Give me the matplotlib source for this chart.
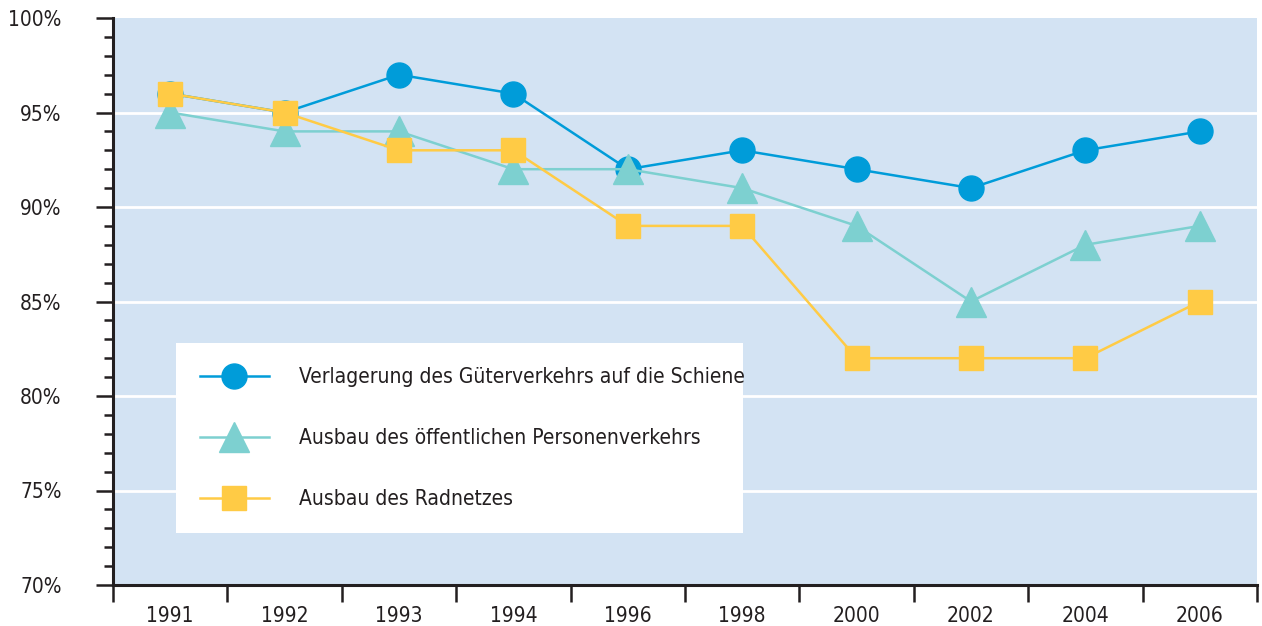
import matplotlib
matplotlib.use("Agg")
import matplotlib.pyplot as plt
from matplotlib.ticker import MultipleLocator, FixedLocator

plt.rcParams['font.family'] = ['DejaVu Sans']
plt.rcParams['font.stretch'] = 'condensed'

years = ["1991", "1992", "1993", "1994", "1996", "1998", "2000", "2002", "2004", "2006"]
gueter = [96, 95, 97, 96, 92, 93, 92, 91, 93, 94]
oepnv = [95, 94, 94, 92, 92, 91, 89, 85, 88, 89]
rad = [96, 95, 93, 93, 89, 89, 82, 82, 82, 85]

labels = [
    "Verlagerung des Güterverkehrs auf die Schiene",
    "Ausbau des öffentlichen Personenverkehrs",
    "Ausbau des Radnetzes",
]

BLUE = "#009cd9"
TEAL = "#7dd0d0"
YELLOW = "#ffcb45"
BG = "#d3e3f3"
TXT = "#231f20"

fig = plt.figure(figsize=(12.62, 6.26), dpi=100)
ax = fig.add_axes([113 / 1262, 1 - 585 / 626, 1144 / 1262, 567 / 626])
ax.set_facecolor(BG)

x = list(range(len(years)))
ax.plot(x, gueter, color=BLUE, lw=1.8, marker="o", ms=18, label=labels[0], zorder=3)
ax.plot(x, oepnv, color=TEAL, lw=1.8, marker="^", ms=21, label=labels[1], zorder=4)
ax.plot(x, rad, color=YELLOW, lw=1.8, marker="s", ms=17, label=labels[2], zorder=5)

ax.set_xlim(-0.5, len(years) - 0.5)
ax.set_ylim(70, 100)

# y axis
ax.yaxis.set_major_locator(FixedLocator([70, 75, 80, 85, 90, 95, 100]))
ax.yaxis.set_minor_locator(MultipleLocator(1))
ax.set_yticklabels([f"{v}%" for v in [70, 75, 80, 85, 90, 95, 100]])
ax.tick_params(axis="y", which="major", length=12, width=1.8, color=TXT,
               labelsize=15, labelcolor=TXT, pad=25)
ax.tick_params(axis="y", which="minor", length=6.5, width=1.8, color=TXT)
for v in [75, 80, 85, 90, 95]:
    ax.axhline(v, color="white", lw=2, zorder=1)

# x axis: ticks at category boundaries, labels at centres
ax.xaxis.set_major_locator(FixedLocator([i - 0.5 for i in range(len(years) + 1)]))
ax.xaxis.set_minor_locator(FixedLocator(x))
ax.xaxis.set_major_formatter(plt.NullFormatter())
ax.set_xticklabels(years, minor=True)
ax.tick_params(axis="x", which="major", length=12, width=1.8, color=TXT)
ax.tick_params(axis="x", which="minor", length=0, labelsize=15, labelcolor=TXT, pad=15)

for s in ["top", "right"]:
    ax.spines[s].set_visible(False)
for s in ["left", "bottom"]:
    ax.spines[s].set_linewidth(2.2)
    ax.spines[s].set_color(TXT)

leg = ax.legend(loc="upper left", bbox_to_anchor=(63 / 1144, 242 / 567, 567 / 1144, 0.0),
                mode="expand", fontsize=15, frameon=True, fancybox=False,
                borderpad=1.15, labelspacing=1.98, handlelength=3.3,
                handletextpad=1.45, borderaxespad=0, labelcolor=TXT)
leg.get_frame().set_facecolor("white")
leg.get_frame().set_edgecolor("none")
leg.get_frame().set_alpha(1)
leg.set_zorder(6)

fig.savefig("out.png", dpi=100)
